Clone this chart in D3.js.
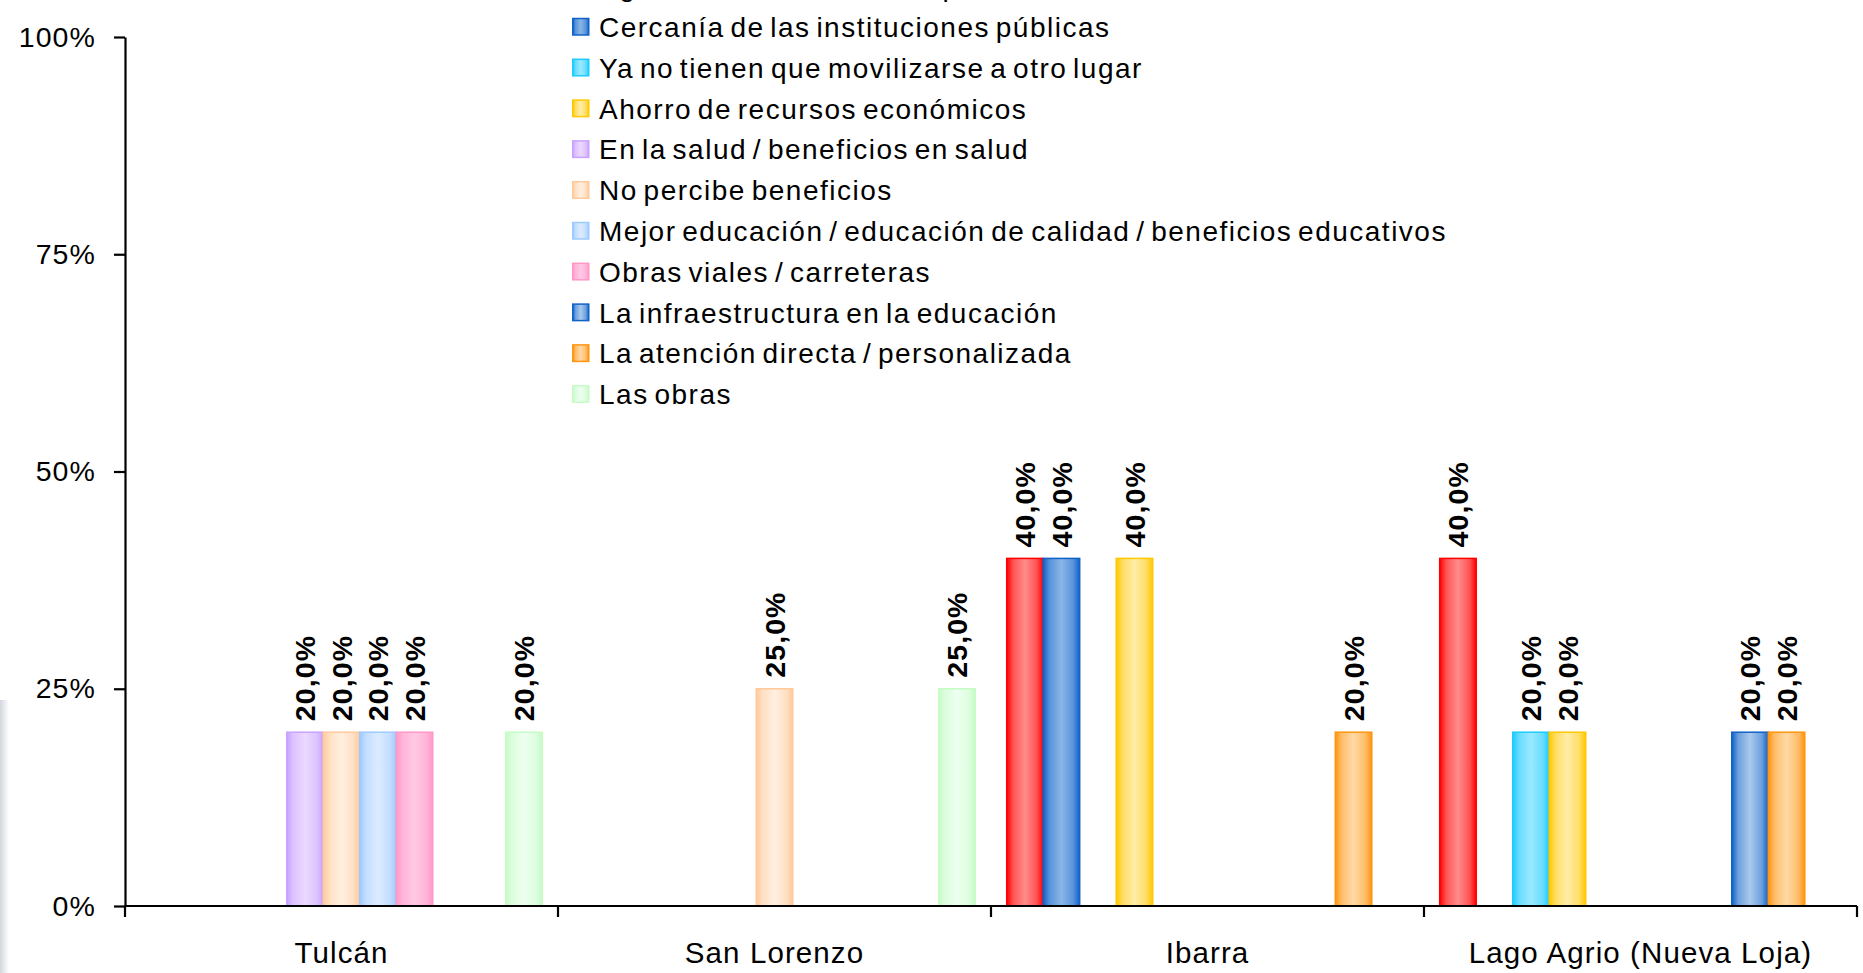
<!DOCTYPE html>
<html>
<head>
<meta charset="utf-8">
<script src="https://cdn.jsdelivr.net/npm/d3@7"></script>
<style>
  body { margin: 0; background: #fff; }
  svg { display: block; font-family: "Liberation Sans", Arial, sans-serif; }
  text { letter-spacing: 1.1px; }
  .leg text { letter-spacing: 1.5px; word-spacing: -3.5px; }
</style>
</head>
<body>
<svg id="chart" width="1863" height="973"></svg>
<script>
// categories (x axis)
const categories = ["Tulcán", "San Lorenzo", "Ibarra", "Lago Agrio (Nueva Loja)"];

// series shown in the legend, in drawing order
const seriesNames = [
  "Agilidad en el servicio / rapidez",
  "Cercanía de las instituciones públicas",
  "Ya no tienen que movilizarse a otro lugar",
  "Ahorro de recursos económicos",
  "En la salud / beneficios en salud",
  "No percibe beneficios",
  "Mejor educación / educación de calidad / beneficios educativos",
  "Obras viales / carreteras",
  "La infraestructura en la educación",
  "La atención directa / personalizada",
  "Las obras"
];

// values in %, one entry per category (null = no bar)
const agilidad      = [null, null, 40, 40];
const cercania      = [null, null, 40, null];
const movilizarse   = [null, null, null, 20];
const ahorro        = [null, null, 40, 20];
const salud         = [20, null, null, null];
const noPercibe     = [20, 25, null, null];
const educacion     = [20, null, null, null];
const obrasViales   = [20, null, null, null];
const infraestruct  = [null, null, null, 20];
const atencion      = [null, null, 20, 20];
const lasObras      = [20, 25, null, null];

const seriesValues = [agilidad, cercania, movilizarse, ahorro, salud, noPercibe,
  educacion, obrasViales, infraestruct, atencion, lasObras];

const yTicks = [0, 25, 50, 75, 100];

// edge / centre colours of the shaded bars
const colors = [
  ["#ff0000", "#ff8c8c"],
  ["#1062c8", "#8ab6e6"],
  ["#1ecbff", "#9ae9ff"],
  ["#ffc800", "#ffeca8"],
  ["#c9a2ff", "#ebd9ff"],
  ["#ffc99a", "#ffefe0"],
  ["#9dcaff", "#dcecff"],
  ["#ff98c9", "#ffc9e3"],
  ["#1062c8", "#aac9ec"],
  ["#ff9510", "#ffd9a6"],
  ["#c6fbc6", "#edfff0"]
];

const svg = d3.select("#chart");
const W = 1863, H = 973;
const margin = {left: 125, right: 6, top: 37, bottom: 67};

svg.append("rect").attr("width", W).attr("height", H).attr("fill", "#fff");

// faint strip on the left edge
const edge = svg.append("defs").append("linearGradient").attr("id", "edgeg");
edge.append("stop").attr("offset", "0%").attr("stop-color", "#d3d5de");
edge.append("stop").attr("offset", "100%").attr("stop-color", "#ffffff");
svg.append("rect").attr("x", 0).attr("y", 700).attr("width", 9).attr("height", 273)
  .attr("fill", "url(#edgeg)");

const defs = svg.append("defs");
colors.forEach((c, i) => {
  const g = defs.append("linearGradient").attr("id", "bar" + i)
    .attr("x1", "0%").attr("x2", "100%").attr("y1", "0%").attr("y2", "0%");
  [[0, c[0]], [0.18, d3.interpolateRgb(c[0], c[1])(0.6)], [0.5, c[1]],
   [0.82, d3.interpolateRgb(c[0], c[1])(0.6)], [1, c[0]]].forEach(s => {
    g.append("stop").attr("offset", s[0]).attr("stop-color", s[1]);
  });
});

const x0 = d3.scaleBand().domain(categories).range([margin.left, W - margin.right]);
const x1 = d3.scaleBand().domain(d3.range(seriesNames.length))
  .range([0, x0.bandwidth()]).paddingInner(0).paddingOuter(0.43);
const y = d3.scaleLinear().domain([0, 100]).range([H - margin.bottom, margin.top]);

// bars
const bars = [];
seriesValues.forEach((vals, si) => {
  vals.forEach((v, ci) => {
    if (v != null) bars.push({s: si, c: categories[ci], v: v});
  });
});

svg.append("g").selectAll("rect").data(bars).join("rect")
  .attr("x", d => x0(d.c) + x1(d.s))
  .attr("y", d => y(d.v))
  .attr("width", x1.bandwidth())
  .attr("height", d => y(0) - y(d.v))
  .attr("fill", d => "url(#bar" + d.s + ")")
  .attr("stroke", d => colors[d.s][0])
  .attr("stroke-width", 1.5);

// value labels, rotated
svg.append("g").selectAll("text").data(bars).join("text")
  .attr("transform", d => `translate(${x0(d.c) + x1(d.s) + x1.bandwidth() / 2},${y(d.v) - 11}) rotate(-90)`)
  .attr("dy", "0.36em")
  .attr("font-size", 28.5)
  .attr("font-weight", "bold")
  .text(d => d3.format(".1f")(d.v).replace(".", ",") + "%");

// y axis
const yAxis = svg.append("g")
  .attr("transform", `translate(${margin.left},0)`)
  .call(d3.axisLeft(y).tickValues(yTicks).tickSize(11).tickSizeOuter(0).tickPadding(18)
    .tickFormat(d => d + "%"));
yAxis.selectAll("path, line").attr("stroke", "#000").attr("stroke-width", 2.2);
yAxis.selectAll("text").attr("font-size", 28.5).attr("fill", "#000").attr("font-family", null);

// x axis line, boundary ticks and labels
const xAxis = svg.append("g").attr("transform", `translate(0,${y(0)})`);
xAxis.append("line").attr("x1", margin.left).attr("x2", W - margin.right)
  .attr("stroke", "#000").attr("stroke-width", 2.2);
const bounds = categories.map(c => x0(c)).concat([x0.range()[1]]);
xAxis.selectAll(".b").data(bounds).join("line").attr("class", "b")
  .attr("x1", d => d).attr("x2", d => d).attr("y1", 0).attr("y2", 11)
  .attr("stroke", "#000").attr("stroke-width", 2.2);
xAxis.selectAll(".lab").data(categories).join("text").attr("class", "lab")
  .attr("x", d => x0(d) + x0.bandwidth() / 2)
  .attr("y", 57)
  .attr("text-anchor", "middle")
  .attr("font-size", 29.5)
  .text(d => d);

// legend (first row runs off the top, as in the source)
const legend = svg.append("g").attr("class", "leg");
const rowH = 40.8, firstBase = 37 - rowH;
const items = legend.selectAll("g").data(seriesNames).join("g")
  .attr("transform", (d, i) => `translate(572,${firstBase + i * rowH})`);
items.append("rect").attr("x", 0.75).attr("y", -18.5).attr("width", 16).attr("height", 16.5)
  .attr("fill", (d, i) => "url(#bar" + i + ")")
  .attr("stroke", (d, i) => colors[i][0]).attr("stroke-width", 1.5);
items.append("text").attr("x", 27).attr("y", 0).attr("font-size", 28).text(d => d);
</script>
</body>
</html>
